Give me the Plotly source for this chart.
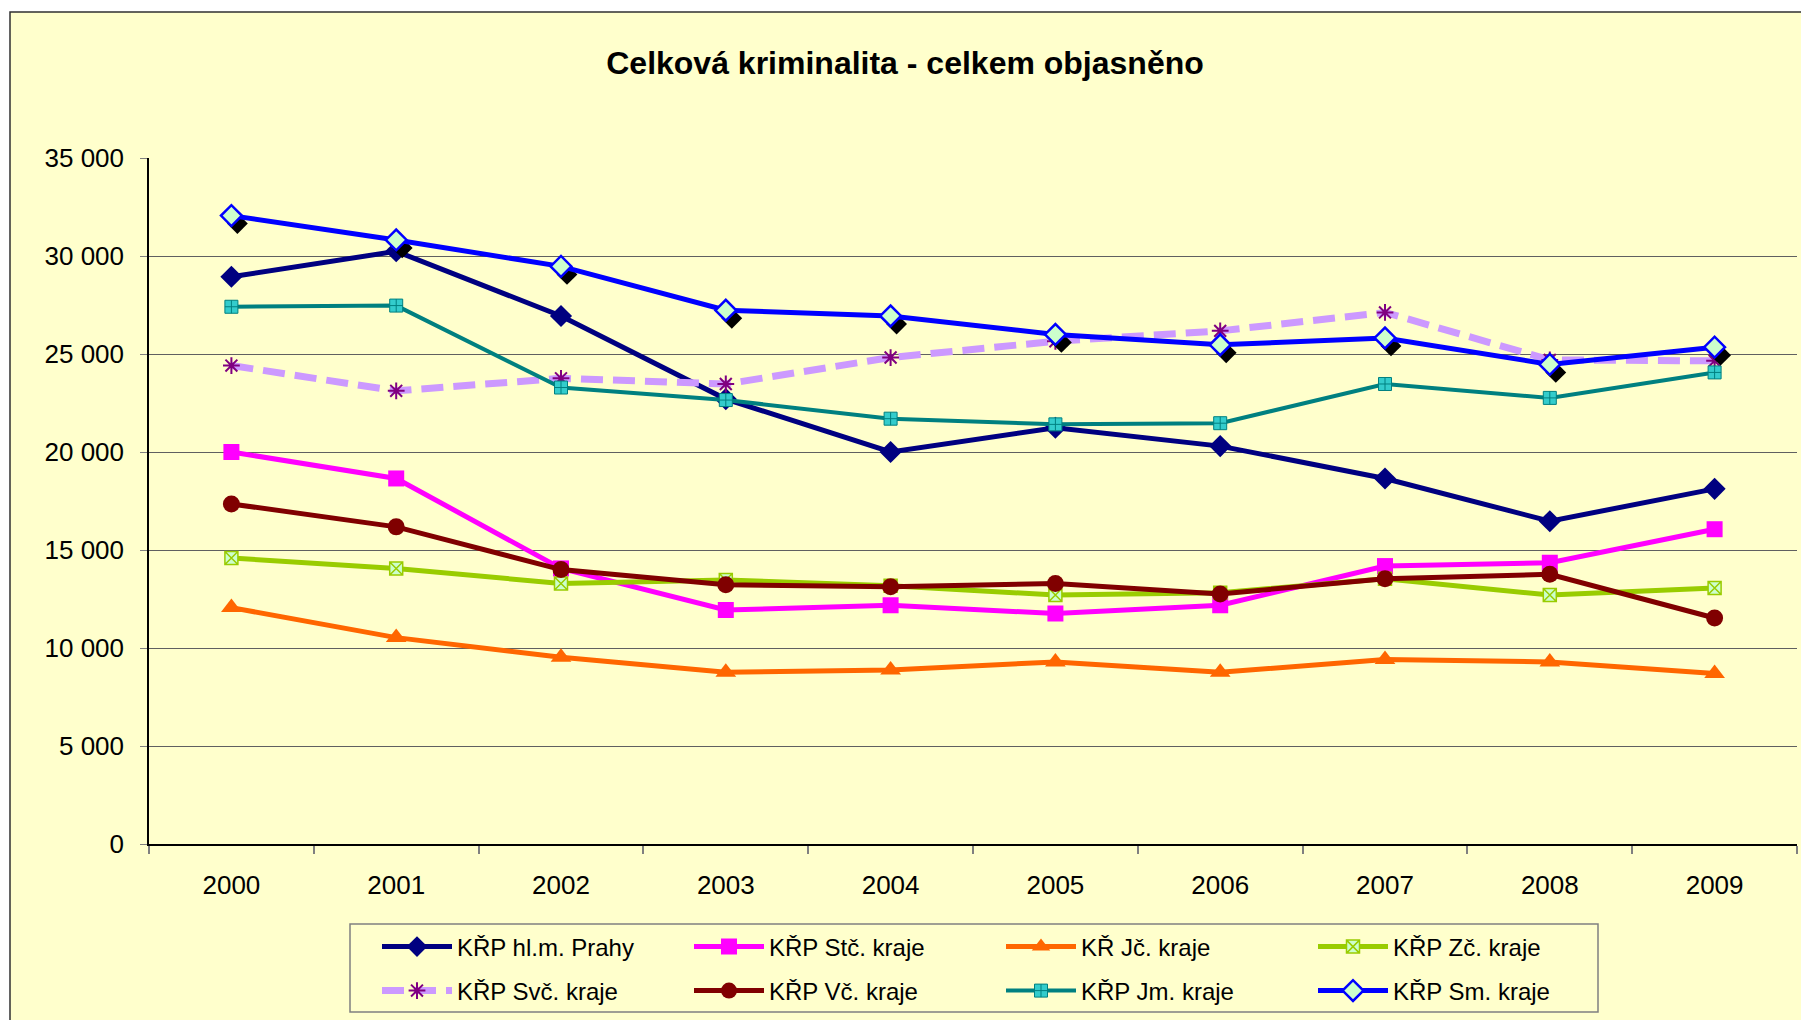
import plotly.graph_objects as go

years = ["2000", "2001", "2002", "2003", "2004", "2005", "2006", "2007", "2008", "2009"]

praha = [28940, 30240, 26940, 22700, 20000, 21240, 20300, 18650, 16470, 18120]
stc = [20000, 18650, 14060, 11940, 12180, 11760, 12180, 14180, 14350, 16060]
jc = [12060, 10530, 9530, 8760, 8880, 9290, 8760, 9410, 9290, 8700]
zc = [14590, 14060, 13290, 13470, 13180, 12700, 12820, 13530, 12700, 13060]
svc = [24410, 23120, 23760, 23470, 24820, 25650, 26180, 27120, 24700, 24650]
vc = [17350, 16180, 14000, 13230, 13120, 13290, 12760, 13530, 13760, 11530]
jm = [27410, 27470, 23290, 22650, 21700, 21410, 21470, 23470, 22760, 24060]
sm = [32060, 30820, 29470, 27230, 26940, 26000, 25470, 25820, 24470, 25350]

names = ["KŘP hl.m. Prahy", "KŘP Stč. kraje", "KŘ Jč. kraje", "KŘP Zč. kraje",
         "KŘP Svč. kraje", "KŘP Vč. kraje", "KŘP Jm. kraje", "KŘP Sm. kraje"]

OFF = 8  # page body margin
W, H = 1809 - OFF, 1020 - OFF
L = 149 - OFF
T = 158 - OFF
B = H - (844 - OFF)
R = W - (1797 - OFF)
pw, ph = W - L - R, H - T - B


def px_x(p):  # screen px -> paper x
    return (p - OFF - L) / pw


def px_y(p):  # screen px -> paper y
    return (H - B - (p - OFF)) / ph


FONT = "Liberation Sans, Arial, sans-serif"
YMAX = 35000
cat_px = pw / len(years)
sx, sy = 6, 8  # shadow offset px

fig = go.Figure()

styles = [
    (praha, dict(color="#000080", width=5), dict(symbol="diamond", size=17, color="#000080")),
    (stc, dict(color="#FF00FF", width=5), dict(symbol="square", size=16, color="#FF00FF")),
    (jc, dict(color="#FF6600", width=5), dict(symbol="triangle-up", size=18, color="#FF6600")),
    (zc, dict(color="#99CC00", width=5),
     dict(symbol="square-x", size=13, color="#CCFFCC", line=dict(color="#99CC00", width=1.5))),
    (svc, dict(color="#CC99FF", width=7, dash="22px,10px"),
     dict(symbol="asterisk-open", size=14, color="#800080", line=dict(color="#800080", width=2))),
    (vc, dict(color="#800000", width=5), dict(symbol="circle", size=17, color="#800000")),
    (jm, dict(color="#008080", width=4),
     dict(symbol="square-cross", size=13, color="#33CCCC", line=dict(color="#008080", width=1))),
    (sm, dict(color="#0000FF", width=5),
     dict(symbol="diamond", size=16, color="#CCFFCC", line=dict(color="#0000FF", width=2.5))),
]

for i, (vals, ln, mk) in enumerate(styles[:7]):
    fig.add_trace(go.Scatter(
        x=years, y=vals, name=names[i], mode="lines+markers",
        line=ln, marker=mk, cliponaxis=False,
        legend="legend" if i < 4 else "legend2"))

# shadow of Sm. kraje markers (drawn on an offset overlay scale)
fig.add_trace(go.Scatter(
    x=years, y=sm, mode="markers", xaxis="x2", yaxis="y2", showlegend=False,
    hoverinfo="skip",
    marker=dict(symbol="diamond", size=16, color="black", line=dict(width=0)),
    cliponaxis=False))

vals, ln, mk = styles[7]
fig.add_trace(go.Scatter(
    x=years, y=vals, name=names[7], mode="lines+markers",
    xaxis="x3", yaxis="y3", line=ln, marker=mk, cliponaxis=False,
    legend="legend2"))

axfont = dict(family=FONT, size=26, color="black")
legfont = dict(family=FONT, size=24, color="black")
fig.update_layout(
    width=W, height=H,
    margin=dict(l=L, r=R, t=T, b=B, autoexpand=False),
    paper_bgcolor="white",
    plot_bgcolor="#FFFFCC",
    separators=". ",
    title=dict(text="<b>Celková kriminalita - celkem objasněno</b>",
               font=dict(family=FONT, size=32, color="black"),
               x=(905 - OFF) / W, xref="container", xanchor="center",
               y=1 - (63 - OFF) / H, yref="container", yanchor="middle"),
    xaxis=dict(type="category", categoryorder="array", categoryarray=years,
               range=[-0.5, len(years) - 0.5], tickson="boundaries",
               ticks="outside", ticklen=8, tickcolor="#808080", tickwidth=2,
               showline=True, linecolor="black", linewidth=1.5,
               showgrid=False, tickfont=axfont, ticklabelstandoff=17,
               zeroline=False),
    yaxis=dict(range=[0, YMAX], dtick=5000, tickformat=",d",
               ticks="outside", ticklen=7, tickcolor="#808080", tickwidth=1,
               showline=True, linecolor="black", linewidth=1.5,
               showgrid=True, gridcolor="#606060", gridwidth=1,
               tickfont=axfont, ticklabelstandoff=11, zeroline=False),
    xaxis2=dict(type="category", categoryorder="array", categoryarray=years,
                overlaying="x", visible=False,
                range=[-0.5 - sx / cat_px, len(years) - 0.5 - sx / cat_px]),
    yaxis2=dict(overlaying="y", visible=False,
                range=[sy * YMAX / ph, YMAX + sy * YMAX / ph]),
    xaxis3=dict(type="category", categoryorder="array", categoryarray=years,
                overlaying="x", visible=False, range=[-0.5, len(years) - 0.5]),
    yaxis3=dict(overlaying="y", visible=False, range=[0, YMAX]),
    legend=dict(orientation="h", x=px_x(377), xanchor="left",
                y=px_y(947), yanchor="middle",
                bgcolor="rgba(0,0,0,0)", borderwidth=0,
                entrywidth=227, itemwidth=70, font=legfont,
                traceorder="normal"),
    legend2=dict(orientation="h", x=px_x(377), xanchor="left",
                 y=px_y(991), yanchor="middle",
                 bgcolor="rgba(0,0,0,0)", borderwidth=0,
                 entrywidth=227, itemwidth=70, font=legfont,
                 traceorder="normal"),
    shapes=[
        dict(type="rect", xref="paper", yref="paper", layer="below",
             x0=px_x(10), x1=px_x(1805), y0=px_y(1040), y1=px_y(12),
             fillcolor="#FFFFCC", line=dict(color="#303030", width=1.5)),
        dict(type="rect", xref="paper", yref="paper", layer="below",
             x0=px_x(350), x1=px_x(1598), y0=px_y(1012), y1=px_y(924),
             fillcolor="#FFFFCC", line=dict(color="#808080", width=1.5)),
    ],
)

fig.write_html("out.html")
